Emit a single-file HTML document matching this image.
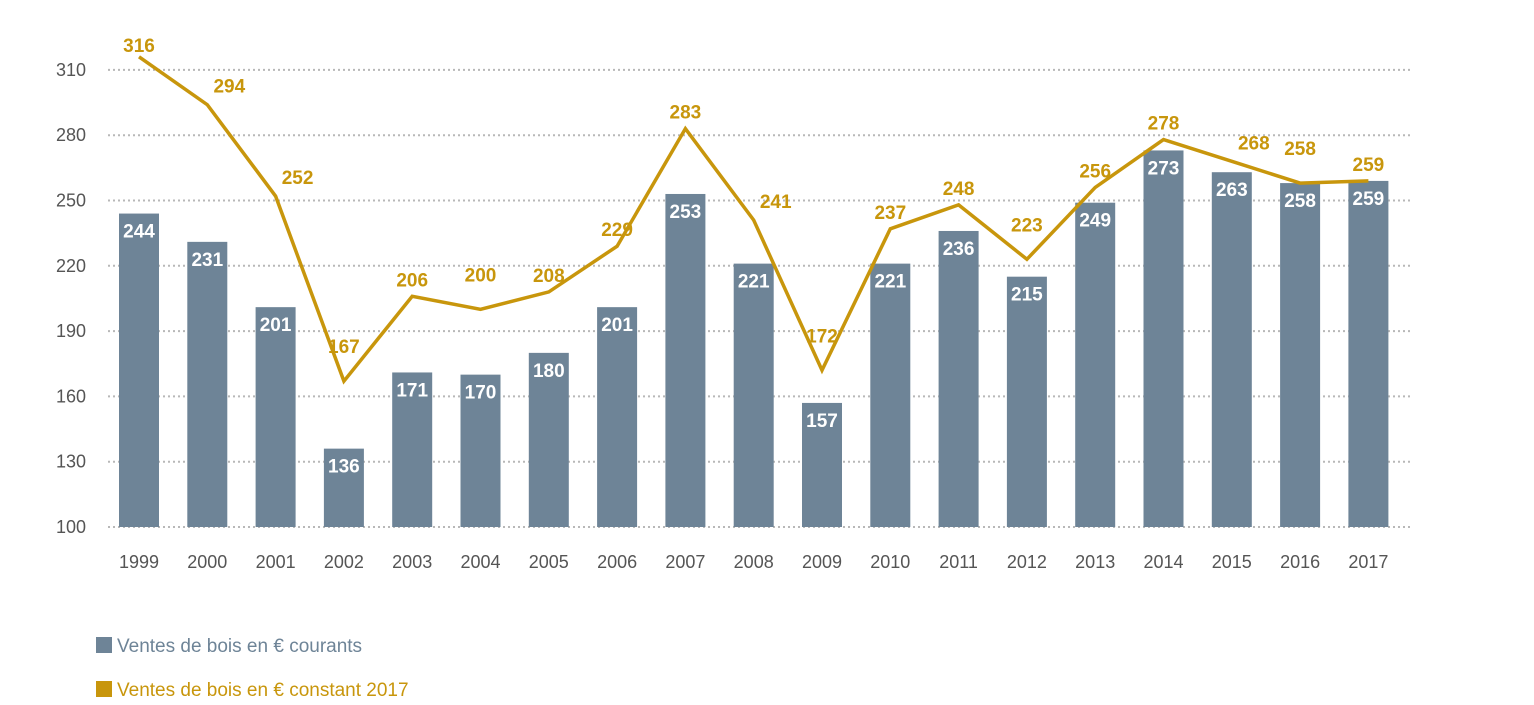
<!DOCTYPE html>
<html><head><meta charset="utf-8"><style>
body{margin:0;background:#fff;}
svg{display:block;font-family:"Liberation Sans",sans-serif;}
</style></head><body>
<svg id="chart" width="1534" height="705"></svg>
<script>
const years=["1999","2000","2001","2002","2003","2004","2005","2006","2007","2008","2009","2010","2011","2012","2013","2014","2015","2016","2017"];
const currentValues=[244,231,201,136,171,170,180,201,253,221,157,221,236,215,249,273,263,258,259];
const constantValues=[316,294,252,167,206,200,208,229,283,241,172,237,248,223,256,278,268,258,259];
const yTicks=[100,130,160,190,220,250,280,310];
const NS="http://www.w3.org/2000/svg";
const svg=document.getElementById('chart');
const y0=527,pxPer=65.3/30;
function yS(v){return y0-(v-100)*pxPer;}
function xS(i){return 139+i*68.3;}
function mk(t,a,p){const e=document.createElementNS(NS,t);for(const k in a)e.setAttribute(k,a[k]);(p||svg).appendChild(e);return e;}
const grid=mk('g',{});


yTicks.forEach(v=>{
 const l=mk('line',{x1:108,x2:1410,y1:yS(v),y2:yS(v),stroke:'#b8b8b8','stroke-width':2,'stroke-dasharray':'2,3'},grid);
 
 
 const t=mk('text',{x:86,y:yS(v)+6,'text-anchor':'end','font-size':18,fill:'#555'});
 t.textContent=v;
 
 
});
years.forEach((yr,i)=>{
 const x=xS(i),v=currentValues[i];
 const r=mk('rect',{x:x-20,y:yS(v),width:40,height:y0-yS(v),fill:'#6e8497'});
 
 
 const t=mk('text',{x:x,y:yS(v)+24,'text-anchor':'middle','font-size':19,'font-weight':'bold',fill:'#fff'});
 t.textContent=v;
 
 
 const xt=mk('text',{x:x,y:568,'text-anchor':'middle','font-size':18,fill:'#555'});
 xt.textContent=yr;
 
 
});
const pts=constantValues.map((v,i)=>xS(i)+','+yS(v)).join(' ');
const pl=mk('polyline',{points:pts,fill:'none',stroke:'#c8960c','stroke-width':3.5,'stroke-linejoin':'miter'});


constantValues.forEach((v,i)=>{
 const prev=i>0?constantValues[i-1]:v,next=i<constantValues.length-1?constantValues[i+1]:v;
 let dx=0,dy=-10;
 if(prev>v&&next<v&&v>240){dx=22;dy=-12;}
 else if(prev>v&&next>v){dy=-28;}
 if(i===0)dy=-5;
 const t=mk('text',{x:xS(i)+dx,y:yS(v)+dy,'text-anchor':'middle','font-size':19,'font-weight':'bold',fill:'#c8960c'});
 t.textContent=v;
 
 
});
const lg=mk('g',{});


[['Ventes de bois en € courants','#6e8497',645],['Ventes de bois en € constant 2017','#c8960c',689]].forEach((d,k)=>{
 const r=mk('rect',{x:96,y:d[2]-8,width:16,height:16,fill:d[1]},lg);
 
 
 const t=mk('text',{x:117,y:d[2]+7,'font-size':19,fill:k?'#c8960c':'#6e8497'},lg);
 t.textContent=d[0];
 
 
});
</script>
</body></html>
